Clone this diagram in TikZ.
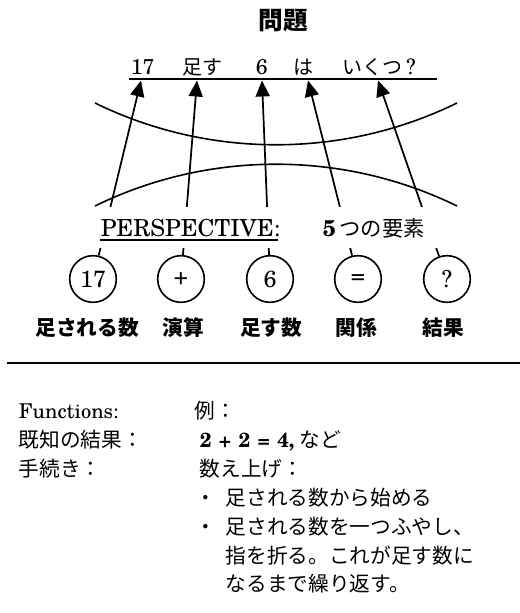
\documentclass[tikz,border=0pt]{standalone}
\usepackage{fontspec}
\setmainfont{texgyreschola-regular.otf}[BoldFont=texgyreschola-bold.otf]
\newfontfamily\cjk{Noto Sans CJK JP}
\usetikzlibrary{arrows.meta}
\newcommand\opgap{\hspace{5.5pt}}
\begin{document}
\begin{tikzpicture}[x=0.75pt,y=-0.75pt,line width=1.2pt,
  arr/.style={-{Triangle[length=12pt,width=10.5pt]},line width=1.3pt},
  elem/.style={circle,draw,line width=1.2pt,minimum size=35pt,inner sep=0pt,fill=white,font=\fontsize{17.5}{18}\selectfont},
  lbl/.style={font=\cjk\bfseries\fontsize{15.5}{17}\selectfont},
  lat/.style={anchor=base west,inner sep=0pt,font=\fontsize{16}{19}\selectfont},
  jp/.style={anchor=base west,inner sep=0pt,font=\cjk\fontsize{15}{17}\selectfont},
  low/.style={anchor=base west,inner sep=0pt,font=\fontsize{15.3}{17}\selectfont},
  lowjp/.style={anchor=base west,inner sep=0pt,font=\cjk\fontsize{15.5}{17}\selectfont}]
\useasboundingbox (0,0) rectangle (520,613);

% title
\node[font=\cjk\bfseries\fontsize{18.5}{20}\selectfont] (title) at (283,21) {問題};

% sentence
\node[lat] (w17) at (130,75) {17};
\node[jp]  (wadd) at (182,75) {足す};
\node[lat] (w6) at (255,75) {6};
\node[jp]  (wha) at (293,75) {は};
\node[jp]  (wq) at (342,75) {いくつ{\rmfamily\fontsize{16}{19}\selectfont\,?}};
\draw[line width=1.6pt] (129,79) -- (437,79);
\coordinate (t17) at (141,80.5);
\coordinate (tadd) at (197,80.5);
\coordinate (t6) at (262,80.5);
\coordinate (tha) at (308,80.5);
\coordinate (tq) at (378,80.5);

% arcs
\draw (95,103) .. controls (208.6,158.7) and (343.4,158.7) .. (457,103);
\draw (95,206) .. controls (208.6,150.3) and (343.4,150.3) .. (457,206);

% circles
\node[elem] (c17) at (93,279) {17};
\node[elem] (cadd) at (181,279) {+};
\node[elem] (c6) at (270,279) {6};
\node[elem] (ceq) at (358,279) {=};
\node[elem] (cq) at (447,279) {?};

% connectors
\draw[arr] (c17) -- (t17);
\draw[arr] (cadd) -- (tadd);
\draw[arr] (c6) -- (t6);
\draw[arr] (ceq) -- (tha);
\draw[arr] (cq) -- (tq);

% perspective line (white band behind the text)
\fill[white] (94,207) rectangle (442,248);
\node[anchor=base west,inner sep=0pt,font=\fontsize{17.6}{20}\selectfont] (persp) at (100,236) {PERSPECTIVE:};
\draw[line width=1.5pt] (100,240) -- (278,240);
\node[anchor=base west,inner sep=0pt,font=\fontsize{17}{20}\selectfont] (five) at (322,236) {\textbf{5}\,{\cjk\fontsize{16}{17}\selectfont つの要素}};

% labels
\node[lbl] (l1) at (87,328) {足される数};
\node[lbl] (l2) at (183,328) {演算};
\node[lbl] (l3) at (271,328) {足す数};
\node[lbl] (l4) at (356,328) {関係};
\node[lbl] (l5) at (443,328) {結果};

% rule
\draw[line width=1.8pt] (7,363) -- (520,363);

% lower text
\node[low] (f1) at (18,418) {Functions:};
\node[lowjp] (f2) at (194,418) {例：};
\node[lowjp] (k1) at (18,447) {既知の結果：};
\node[low] (k2) at (199,447) {\textbf{2\opgap+\opgap2\opgap=\opgap4,}\hspace{4pt}{\cjk\fontsize{15.5}{17}\selectfont など}};
\node[lowjp] (p1) at (18,476) {手続き：};
\node[lowjp] (p2) at (199,476) {数え上げ：};
\node[lowjp] (b1) at (195,505) {・};
\node[lowjp] (s1) at (225,505) {足される数から始める};
\node[lowjp] (b2) at (195,534) {・};
\node[lowjp] (s2) at (225,534) {足される数を一つふやし、};
\node[lowjp] (s3) at (225,563) {指を折る。これが足す数に};
\node[lowjp] (s4) at (225,591) {なるまで繰り返す。};
\end{tikzpicture}
\end{document}
